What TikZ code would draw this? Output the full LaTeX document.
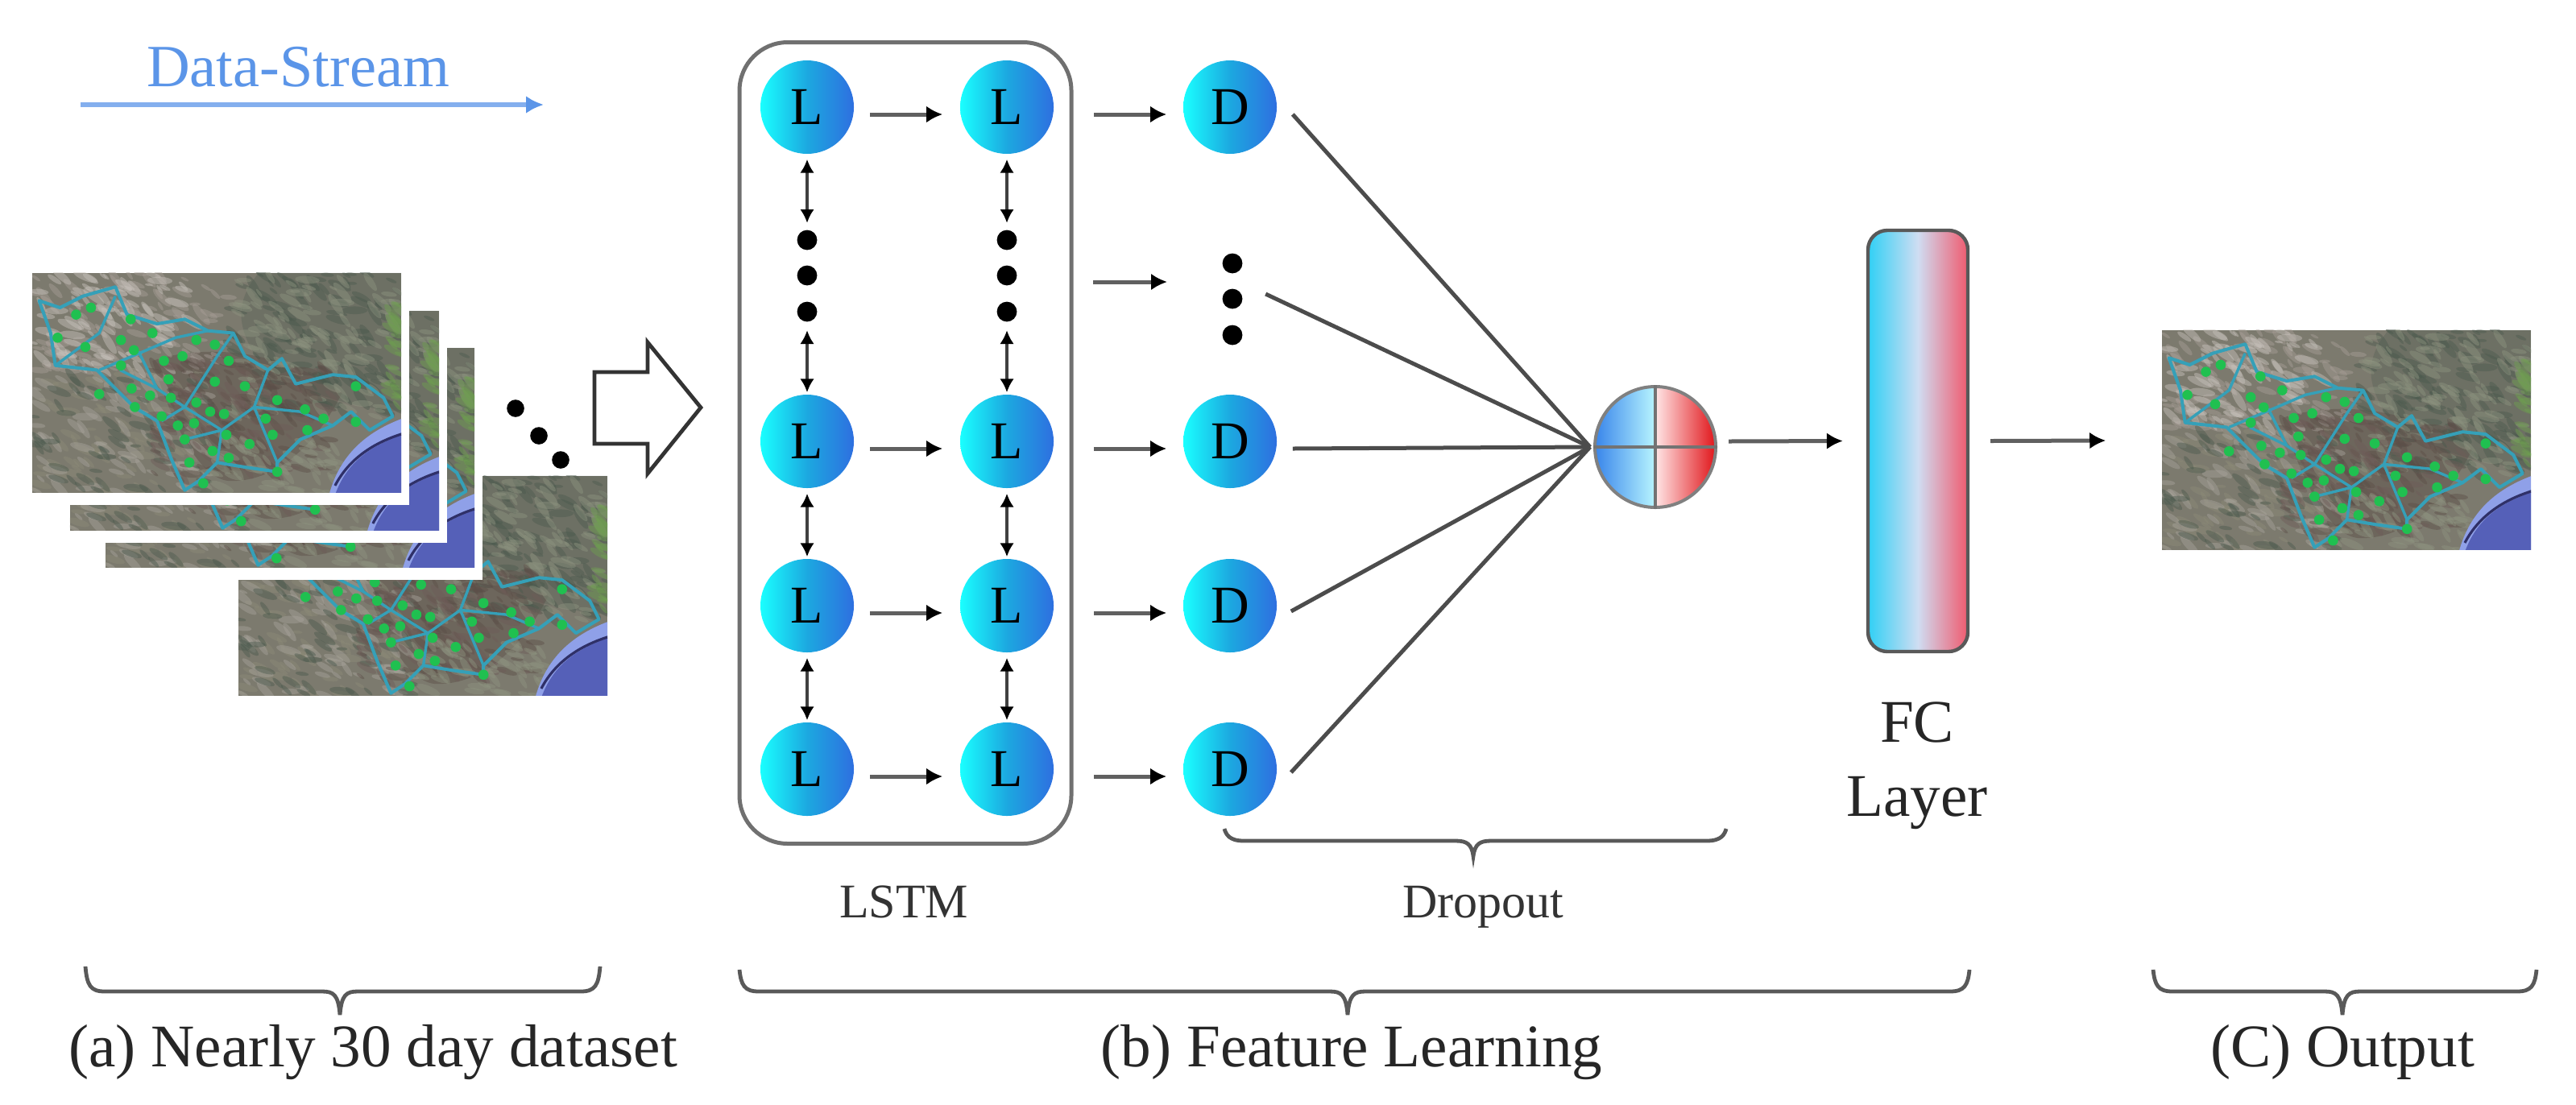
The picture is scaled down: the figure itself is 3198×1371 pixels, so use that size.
\documentclass[tikz,border=0pt]{standalone}
\usepackage{fontspec}
\setmainfont{Liberation Serif}
\usetikzlibrary{arrows.meta,calc}
\definecolor{dsblue}{HTML}{5B95E8}
\definecolor{shaftgray}{HTML}{606060}
\definecolor{framegray}{HTML}{707070}
\definecolor{FCleft}{HTML}{30D0F5}
\definecolor{FCmid}{HTML}{CFDDF2}
\definecolor{FCright}{HTML}{F05A6E}
\definecolor{HLmid}{HTML}{1CA8E0}
\definecolor{HLright}{HTML}{2E6FE0}
\pgfdeclarehorizontalshading{mergeshade}{100bp}{rgb(0bp)=(0.22,0.52,0.92);rgb(25bp)=(0.22,0.52,0.92);rgb(49.9bp)=(0.72,0.96,1);rgb(50.1bp)=(1,0.9,0.9);rgb(75bp)=(0.88,0.08,0.1);rgb(100bp)=(0.88,0.08,0.1)}
\tikzset{
  unitnode/.style={circle,draw=none,minimum size=29pt,inner sep=0pt,left color=cyan!90!white,right color=HLright,middle color=HLmid,font=\fontsize{16.5pt}{20pt}\selectfont},
  blackdot/.style={circle,fill=black,draw=none,minimum size=6.2pt,inner sep=0pt},
  harrow/.style={draw=shaftgray,line width=1.25pt,-{Latex[black,length=5pt,width=5.2pt]}},
  varrow/.style={draw=black!75,line width=0.8pt,{Latex[black,length=4.2pt,width=4.4pt]}-{Latex[black,length=4.2pt,width=4.4pt]}},
  fanline/.style={draw=black!70,line width=1.25pt},
  bracket/.style={draw=black!65,line width=1.2pt},
  smalllabel/.style={anchor=base,inner sep=0pt,font=\fontsize{15pt}{18pt}\selectfont,text=black!80},
  biglabel/.style={anchor=base,inner sep=0pt,font=\fontsize{18.8pt}{22pt}\selectfont,text=black!85},
}
\newcommand{\mottle}[6]{%
  \foreach \i in {1,...,#6}{%
    \pgfmathsetmacro\px{#2+(#4-#2)*rnd}%
    \pgfmathsetmacro\py{#3+(#5-#3)*rnd}%
    \pgfmathsetmacro\pr{9+20*rnd}%
    \pgfmathsetmacro\pa{-60+60*rnd}%
    \fill[#1,opacity=0.45,rotate around={\pa:(\px,\py)}] (\px,\py) ellipse [x radius=\pr,y radius=0.3*\pr];
  }}
% map picture; local coordinates are those of the first map at 1.742 times size
\newcommand{\mapimg}[2]{%
  \begin{scope}[shift={({#1-40.2},{#2-338.7})},x=0.1435pt,y=-0.1435pt]
    \fill[white] (50,570) rectangle (885,1092);
    \begin{scope}
      \clip (70,590) rectangle (868,1065);
      \fill[HTML7C] (70,590) rectangle (868,1065);
      \fill[HTMLe,opacity=0.3] (560,590) .. controls (500,660) and (520,720) .. (560,780) .. controls (640,850) and (760,880) .. (870,890) -- (870,590) -- cycle;
      \fill[HTMLg,opacity=0.45] (330,780) .. controls (450,740) and (620,760) .. (740,850) .. controls (700,930) and (620,1040) .. (500,1040) .. controls (440,1040) and (380,940) .. (330,780) -- cycle;
      \pgfmathsetseed{7}
      \mottle{HTMLa}{70}{590}{500}{820}{110}
      \mottle{HTMLb}{70}{590}{420}{800}{90}
      \mottle{HTMLc}{70}{800}{450}{1065}{80}
      \mottle{HTMLd}{70}{800}{450}{1065}{80}
      \mottle{HTMLe}{70}{800}{450}{1065}{60}
      \mottle{HTMLe}{500}{590}{868}{900}{150}
      \mottle{HTMLf}{500}{590}{868}{900}{120}
      \mottle{HTMLg}{330}{780}{720}{1030}{110}
      \mottle{HTMLh}{330}{780}{720}{1030}{70}
      \mottle{HTMLf}{450}{950}{740}{1065}{60}
      \mottle{HTMLi}{845}{640}{868}{900}{24}
      \fill[HTMLsea1] (712,1070) .. controls (735,985) and (790,935) .. (870,905) -- (870,1070) -- cycle;
      \fill[HTMLsea2] (725,1070) .. controls (750,1000) and (800,965) .. (870,940) -- (870,1070) -- cycle;
      \draw[HTMLsea3,line width=0.8pt] (725,1050) .. controls (752,998) and (800,960) .. (870,938);
      \draw[HTMLcy,line width=1pt,line join=round] (85,650)--(130,665)--(180,640)--(250,620)--(275,680)--(340,700)--(400,690)--(450,715)--(505,720)--(530,770)--(580,800)--(610,775)--(640,830)--(720,810)--(770,815)--(830,860)--(850,900)--(800,930)--(760,890)--(720,920)--(650,950)--(600,1000)--(600,1020)--(530,1010)--(470,1000)--(430,1040)--(400,1060)--(370,990)--(340,910)--(290,880)--(210,800)--(120,790)--(110,720)--cycle;
      \draw[HTMLcy,line width=0.85pt,line join=round] (215,800)--(310,760)--(380,730)--(450,715) (300,760)--(340,840)--(400,880)--(350,910) (400,880)--(470,770)--(505,720) (580,800)--(550,880)--(600,1000) (400,880)--(480,930)--(550,880)--(650,890)--(720,920) (470,1000)--(480,930) (120,790)--(215,720)--(250,640) (260,800)--(340,840) (400,950)--(480,930);
      \foreach \dx/\dy in {197/665,165/680,125/730,185/750,283/690,330/720,262/735,290/757,262/790,215/852,285/840,325/855,292/880,365/820,355/780,395/770,425/735,465/745,495/780,465/825,530/835,370/860,425/870,350/900,385/920,420/915,455/890,485/895,490/940,460/975,400/950,410/1000,495/990,540/960,590/940,575/905,600/865,660/885,700/905,665/930,770/835,770/912,600/1020,440/1045}
        \fill[HTMLgr] (\dx,\dy) circle (11);
    \end{scope}
  \end{scope}}
\definecolor{HTML7C}{HTML}{7C7A6E}
\definecolor{HTMLa}{HTML}{A89E98}
\definecolor{HTMLb}{HTML}{C8C2BC}
\definecolor{HTMLc}{HTML}{8C8A78}
\definecolor{HTMLd}{HTML}{A8A49C}
\definecolor{HTMLe}{HTML}{4C5A4E}
\definecolor{HTMLf}{HTML}{8E9480}
\definecolor{HTMLg}{HTML}{5C4E48}
\definecolor{HTMLh}{HTML}{6E5C58}
\definecolor{HTMLi}{HTML}{6FA050}
\definecolor{HTMLsea1}{HTML}{8FA0E8}
\definecolor{HTMLsea2}{HTML}{5560B8}
\definecolor{HTMLsea3}{HTML}{2F3068}
\definecolor{HTMLcy}{HTML}{35A0B8}
\definecolor{HTMLgr}{HTML}{20C050}
\newcommand{\bracepath}[6]{%
  \draw[bracket] (#1,#3) .. controls ({#1+2},{#4-8}) and ({#1+6},#4) .. ({#1+24},#4) -- ({#6-22},#4)
    .. controls ({#6-8},#4) and ({#6-2},{#4+4}) .. (#6,#5)
    .. controls ({#6+2},{#4+4}) and ({#6+8},#4) .. ({#6+22},#4) -- ({#2-24},#4)
    .. controls ({#2-6},#4) and ({#2-2},{#4-8}) .. (#2,#3);}
\begin{document}
\begin{tikzpicture}[x=0.25pt,y=-0.25pt]
\useasboundingbox (0,0) rectangle (3198,1371);
% data stream
\node[anchor=base,inner sep=0pt,text=dsblue,font=\fontsize{18.6pt}{22pt}\selectfont] (ds) at (370,107) {Data-Stream};
\coordinate (dsa) at (100,130);
\coordinate (dsb) at (675,130);
\draw[dsblue!75,line width=1.4pt,-{Latex[dsblue,length=5.5pt,width=5.5pt]}] (dsa) -- (dsb);
% maps
\mapimg{296}{591}
\mapimg{131}{432}
\mapimg{87}{386}
\mapimg{40}{339}
\mapimg{2684}{410}
\node[circle,fill=black,minimum width=5.4pt,inner sep=0pt] (e1) at (640,507) {};
\node[circle,fill=black,minimum width=5.4pt,inner sep=0pt] (e2) at (669,541) {};
\node[circle,fill=black,minimum width=5.4pt,inner sep=0pt] (e3) at (696,571) {};
\draw[black!80,line width=1.2pt,fill=white,line join=miter] (738,462)--(804,462)--(804,425)--(870,506)--(804,588)--(804,551)--(738,551)--cycle;
% LSTM frame
\node[draw=framegray,line width=1.25pt,rounded corners=15pt,minimum width=103pt,minimum height=248.75pt,inner sep=0pt] (frame) at (1124,550) {};
% units
\foreach \r/\y in {1/133,2/548,3/752,4/955}{
  \node[unitnode] (La\r) at (1002,\y) {\raisebox{-2pt}{L}};
  \node[unitnode] (Lb\r) at (1250,\y) {\raisebox{-2pt}{L}};
  \node[unitnode] (D\r) at (1527,\y) {\raisebox{-2pt}{D}};
}
% dots
\foreach \c/\x in {a/1002,b/1250}{
  \node[blackdot] (\c p1) at (\x,298) {};
  \node[blackdot] (\c p2) at (\x,342) {};
  \node[blackdot] (\c p3) at (\x,387) {};
}
\node[blackdot] (v1) at (1530,327) {};
\node[blackdot] (v2) at (1530,371) {};
\node[blackdot] (v3) at (1530,416) {};
% arrows between L and D
\foreach \r in {1,2,3,4}{
  \draw[harrow] ([shift={(19,9)}]La\r.east) -- ([shift={(-21,9)}]Lb\r.west);
  \draw[harrow] ([shift={(49,9)}]Lb\r.east) -- ([shift={(-20,9)}]D\r.west);
}
\coordinate (ma) at (1357,350);
\coordinate (mb) at (1449,350);
\draw[harrow] (ma) -- (mb);
% vertical arrows
\foreach \c in {a,b}{
  \draw[varrow] ([yshift=-1.5pt]L\c1.south) -- ([yshift=2pt]\c p1.north);
  \draw[varrow] ([yshift=-2.5pt]\c p3.south) -- ([yshift=0.5pt]L\c2.north);
  \draw[varrow] ([yshift=-1.5pt]L\c2.south) -- ([yshift=0.5pt]L\c3.north);
  \draw[varrow] ([yshift=-1.5pt]L\c3.south) -- ([yshift=0.5pt]L\c4.north);
}
% merge node
\node[circle,minimum size=37.5pt,inner sep=0pt,draw=black!50,line width=1pt,shading=mergeshade] (M) at (2055,555) {};
\draw[black!55,line width=1pt] (M.north) -- (M.south);
\draw[black!55,line width=1pt] (M.west) -- (M.east);
% fan
\draw[fanline] ([shift={(19,9)}]D1.east) -- ([xshift=-1pt]M.west);
\draw[fanline] ([shift={(28,-6)}]v2.east) -- ([xshift=-1pt]M.west);
\draw[fanline] ([shift={(19,9)}]D2.east) -- ([xshift=-1pt]M.west);
\draw[fanline] ([shift={(17,7)}]D3.east) -- ([xshift=-1pt]M.west);
\draw[fanline] ([shift={(17,4)}]D4.east) -- ([xshift=-1pt]M.west);
% FC layer
\node[draw=black!65,line width=1.1pt,rounded corners=6pt,minimum width=31pt,minimum height=130.75pt,inner sep=0pt,left color=FCleft,right color=FCright,middle color=FCmid] (FC) at (2381,547.5) {};
\node[biglabel] (fc1) at (2380,921) {FC};
\node[biglabel] (fc2) at (2380,1013) {Layer};
\node[minimum width=114.5pt,minimum height=68pt,inner sep=0pt] (O) at (2913,547) {};
\draw[harrow] ([shift={(14,-7)}]M.east) -- ([xshift=-7.25pt]FC.west);
\draw[harrow] ([xshift=6.5pt]FC.east) -- ([xshift=-17.25pt]O.west);
% braces and labels
\bracepath{1520}{2143}{1029}{1044}{1063}{1829}
\bracepath{106}{745}{1200}{1231}{1260}{422}
\bracepath{918}{2445}{1204}{1231}{1260}{1673}
\bracepath{2673}{3149}{1204}{1231}{1260}{2908}
\node[smalllabel] (l1) at (1122,1139) {LSTM};
\node[smalllabel] (l2) at (1841,1139) {Dropout};
\node[biglabel] (l3) at (463,1324) {(a) Nearly 30 day dataset};
\node[biglabel] (l4) at (1678,1324) {(b) Feature Learning};
\node[biglabel] (l5) at (2908,1324) {(C) Output};
\end{tikzpicture}
\end{document}
